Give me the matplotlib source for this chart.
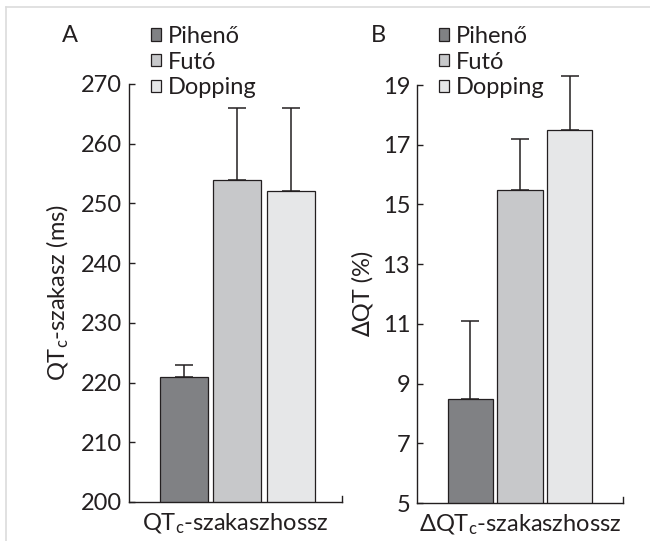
import numpy as np
import matplotlib
matplotlib.use('Agg')
import matplotlib.pyplot as plt
from matplotlib.patches import Patch
from matplotlib.lines import Line2D

plt.rcParams['font.family'] = ['Lato', 'DejaVu Sans']
plt.rcParams['mathtext.fontset'] = 'custom'
plt.rcParams['mathtext.rm'] = 'Lato'
plt.rcParams['mathtext.it'] = 'Lato:italic'
plt.rcParams['mathtext.fallback'] = 'stixsans'

# ---------- data ----------
groups = ['Pihenő', 'Futó', 'Dopping']
colors = ['#808184', '#c7c8ca', '#e6e7e8']

qtc_mean = [221, 254, 252]
qtc_err = [2, 12, 14]

dqt_mean = [8.5, 15.5, 17.5]
dqt_err = [2.6, 1.7, 1.8]

ink = '#231f20'
fs = 17

W, H = 650, 541
fig = plt.figure(figsize=(6.5, 5.41), dpi=100)


def px_axes(x0, x1, y_top, y_bot):
    return fig.add_axes([x0 / W, 1 - y_bot / H, (x1 - x0) / W, (y_bot - y_top) / H])


def style_axes(ax, ymin, ymax, step, top_tick):
    ax.spines['top'].set_visible(False)
    for s in ['left', 'bottom', 'right']:
        ax.spines[s].set_color(ink)
        ax.spines[s].set_linewidth(1.0)
    ax.spines['right'].set_bounds(ymin, ymin + top_tick)
    ax.set_ylim(ymin, ymax)
    ax.set_yticks(np.arange(ymin, ymax + step / 2, step))
    ax.set_xticks([])
    ax.tick_params(axis='y', direction='in', length=4.5, width=1.0, color=ink,
                   labelsize=fs, pad=5, labelcolor=ink)


def draw_bars(ax, means, errs, width):
    x = np.arange(len(means))
    ax.bar(x, means, width=width, color=colors, edgecolor=ink, linewidth=0.9,
           zorder=2)
    eb = ax.errorbar(x, means, yerr=[np.zeros(len(errs)), errs], fmt='none',
                     ecolor=ink, elinewidth=1.1, capsize=6.5, capthick=1.1,
                     zorder=1, clip_on=False)
    for art in eb.lines[1] + eb.lines[2]:
        art.set_clip_on(False)


def add_legend(ax, x_px, y_px):
    handles = [Patch(facecolor=c, edgecolor=ink, linewidth=0.9) for c in colors]
    ax.legend(handles, groups, loc='upper left', frameon=False,
              bbox_to_anchor=(x_px / W, 1 - y_px / H), bbox_transform=fig.transFigure,
              fontsize=fs, handlelength=0.42, handleheight=0.42, handletextpad=0.3,
              labelspacing=0.2, borderpad=0, borderaxespad=0, labelcolor=ink)


# ---------- A ----------
axA = px_axes(129, 342, 84, 502)
draw_bars(axA, qtc_mean, qtc_err, 0.9)
axA.set_xlim(-1.03, 2.96)
style_axes(axA, 200, 270, 10, 1.0)
axA.set_ylabel('QT$_\\mathregular{c}$-szakasz (ms)', fontsize=fs, color=ink)
axA.yaxis.set_label_coords(-0.27, 0.5)
axA.set_xlabel('QT$_\\mathregular{c}$-szakaszhossz', fontsize=fs, color=ink, labelpad=7)
add_legend(axA, 151, 26)
fig.text(70 / W, 1 - 36 / H, 'A', fontsize=fs, color=ink, ha='center', va='center')

# ---------- B ----------
axB = px_axes(417, 623, 85, 503)
draw_bars(axB, dqt_mean, dqt_err, 0.91)
axB.set_xlim(-1.08, 3.08)
style_axes(axB, 5, 19, 2, 0.2)
axB.set_ylabel('∆QT (%)', fontsize=fs, color=ink)
axB.yaxis.set_label_coords(-0.21, 0.5)
axB.set_xlabel('$\\Delta$QT$_\\mathregular{c}$-szakaszhossz', fontsize=fs, color=ink,
               labelpad=7)
add_legend(axB, 439, 26)
fig.text(378 / W, 1 - 36 / H, 'B', fontsize=fs, color=ink, ha='center', va='center')

# ---------- frame ----------
fig.add_artist(Line2D([6 / W, 1], [1 - 7 / H, 1 - 7 / H], color='#dcdcdc', lw=1.2,
                      transform=fig.transFigure))
fig.add_artist(Line2D([6 / W, 6 / W], [0, 1 - 7 / H], color='#dcdcdc', lw=1.2,
                      transform=fig.transFigure))

fig.savefig('out.png', dpi=100)
